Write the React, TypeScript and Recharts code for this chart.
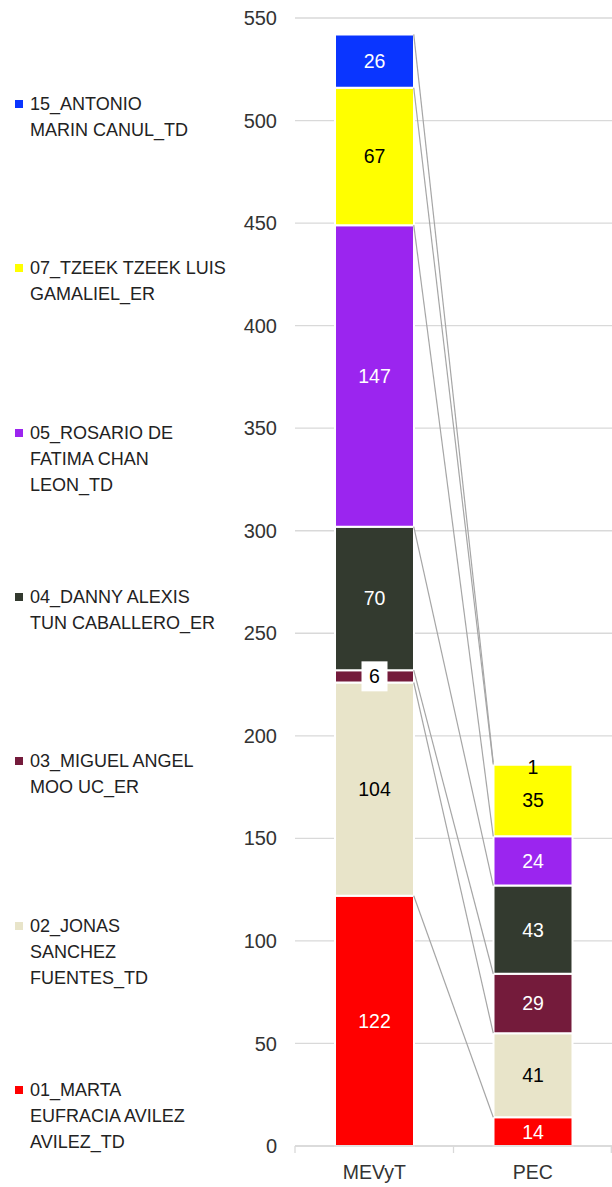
import React from 'react';
import { BarChart, Bar, XAxis, YAxis, CartesianGrid, LabelList, ReferenceLine } from 'recharts';

const categories = ['MEVyT', 'PEC'];
const seriesNames = [
  '01_MARTA\nEUFRACIA AVILEZ\nAVILEZ_TD',
  '02_JONAS\nSANCHEZ\nFUENTES_TD',
  '03_MIGUEL ANGEL\nMOO UC_ER',
  '04_DANNY ALEXIS\nTUN CABALLERO_ER',
  '05_ROSARIO DE\nFATIMA CHAN\nLEON_TD',
  '07_TZEEK TZEEK LUIS\nGAMALIEL_ER',
  '15_ANTONIO\nMARIN CANUL_TD',
];
const s01 = [122, 14];
const s02 = [104, 41];
const s03 = [6, 29];
const s04 = [70, 43];
const s05 = [147, 24];
const s07 = [67, 35];
const s15 = [26, 1];
const seriesValues = [s01, s02, s03, s04, s05, s07, s15];
const yTicks = [0, 50, 100, 150, 200, 250, 300, 350, 400, 450, 500, 550];

const seriesColors = ['#FF0000', '#E8E4C9', '#741B3B', '#333A2F', '#9B25EF', '#FFFF00', '#0A35FF'];
const labelColors = [
  ['#fff', '#fff'],
  ['#000', '#000'],
  ['#000', '#fff'],
  ['#fff', '#fff'],
  ['#fff', '#fff'],
  ['#000', '#000'],
  ['#fff', '#000'],
];
const labelBoxed = [
  [false, false],
  [false, false],
  [true, false],
  [false, false],
  [false, false],
  [false, false],
  [false, false],
];

const FONT = '"Liberation Sans", Arial, sans-serif';
const BAR = 79;

const keys = seriesValues.map((_, j) => 'k' + j);
const data = categories.map((name, i) => {
  const row: any = { name };
  seriesValues.forEach((vals, j) => {
    row[keys[j]] = vals[i];
  });
  return row;
});

const tops = seriesValues.map((_, j) =>
  categories.map((_, i) => seriesValues.slice(0, j + 1).reduce((s, v) => s + v[i], 0))
);

const makeLabel = (j: number) => (props: any) => {
  const { x, y, width, height, value, index } = props;
  const cx = Number(x) + Number(width) / 2;
  const cy = Number(y) + Number(height) / 2;
  const boxed = labelBoxed[j][index];
  return (
    <g>
      {boxed && <rect x={cx - 13} y={cy - 15} width={26} height={30} fill="#fff" />}
      <text
        x={cx}
        y={cy + (index === 1 && j === 6 ? 3 : 0)}
        textAnchor="middle"
        dominantBaseline="central"
        fill={labelColors[j][index]}
        fontSize={19.5}
        fontFamily={FONT}
      >
        {value}
      </text>
    </g>
  );
};

const seriesLineShape = (props: any) => (
  <line
    x1={props.x1 + BAR / 2}
    y1={props.y1}
    x2={props.x2 - BAR / 2}
    y2={props.y2}
    stroke="#A6A6A6"
    strokeWidth={1.2}
  />
);

const XTick = (props: any) => {
  const { x, y, payload, index } = props;
  const off = payload && payload.offset ? payload.offset : 0;
  const axisY = y - 19;
  const last = index === categories.length - 1;
  return (
    <g>
      <line x1={x - off} y1={axisY} x2={x - off} y2={axisY + 7} stroke="#D9D9D9" strokeWidth={1.3} />
      {last && <line x1={x + off - 0.7} y1={axisY} x2={x + off - 0.7} y2={axisY + 7} stroke="#D9D9D9" strokeWidth={1.3} />}
      <text x={x} y={y} dy="0.71em" textAnchor="middle" fill="#333" fontSize={19.5} fontFamily={FONT}>
        {payload.value}
      </text>
    </g>
  );
};

const LEG_TOP = 91;
const LEG_STEP = 164.3;

export default function App() {
  const legendOrder = seriesNames.map((n, j) => ({ n, j })).reverse();
  return (
    <div style={{ position: 'absolute', left: 0, top: 0, width: 612, height: 1187, background: '#fff', fontFamily: FONT }}>
      <BarChart
        width={612}
        height={1187}
        data={data}
        margin={{ top: 18, right: 0, bottom: 0, left: 0 }}
        barSize={BAR}
      >
        <CartesianGrid vertical={false} stroke="#D9D9D9" strokeWidth={1.3} />
        <XAxis
          dataKey="name"
          height={41}
          axisLine={{ stroke: '#D9D9D9', strokeWidth: 1.3 }}
          tickLine={false}
          tickSize={0}
          tickMargin={19}
          tick={<XTick />}
        />
        <YAxis
          width={295}
          domain={[0, 550]}
          ticks={yTicks}
          axisLine={false}
          tickLine={false}
          tickSize={0}
          tickMargin={18}
          tick={{ fill: '#333', fontSize: 20, fontFamily: FONT }}
        />
        {keys.map((k, j) => (
          <Bar key={k} dataKey={k} stackId="a" fill={seriesColors[j]} stroke="#fff" strokeWidth={2} isAnimationActive={false}>
            <LabelList dataKey={k} content={makeLabel(j)} />
          </Bar>
        ))}
        {tops.map((t, j) => (
          <ReferenceLine
            key={'sl' + j}
            segment={[{ x: categories[0], y: t[0] }, { x: categories[1], y: t[1] }]}
            shape={seriesLineShape}
            ifOverflow="visible"
          />
        ))}
      </BarChart>
      {legendOrder.map(({ n, j }, i) => (
        <div
          key={'lg' + j}
          style={{ position: 'absolute', left: 15, top: LEG_TOP + i * LEG_STEP, display: 'flex', alignItems: 'flex-start' }}
        >
          <div style={{ width: 8, height: 8, background: seriesColors[j], marginTop: 9, marginRight: 7 }} />
          <div style={{ whiteSpace: 'pre-line', fontSize: 18, lineHeight: '26px', color: '#222', fontFamily: FONT }}>{n}</div>
        </div>
      ))}
    </div>
  );
}
